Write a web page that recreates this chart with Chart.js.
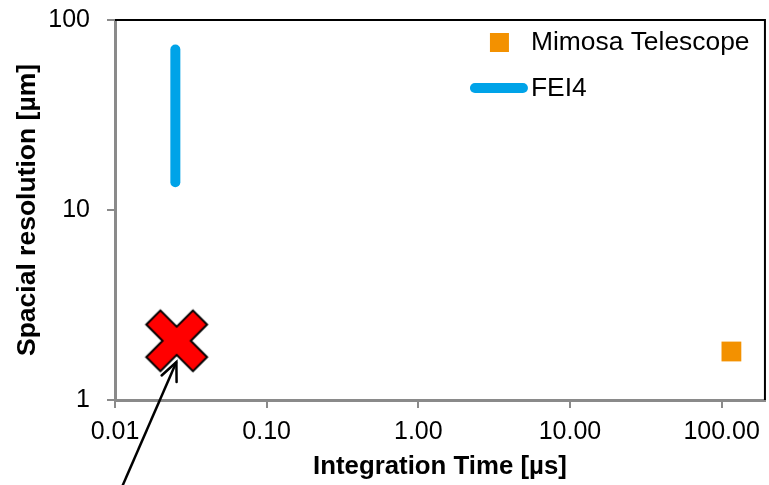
<!DOCTYPE html>
<html>
<head>
<meta charset="utf-8">
<script src="https://cdn.jsdelivr.net/npm/chart.js@4.4.0/dist/chart.umd.min.js"></script>
<style>
  html, body { margin: 0; padding: 0; background: #fff; }
  #wrap { width: 769px; height: 485px; position: relative; }
</style>
</head>
<body>
<div id="wrap"><canvas id="chart"></canvas></div>
<script>
// values
const mimosaX = [116];
const mimosaY = [1.8];
const fei4X = [0.025, 0.025];
const fei4Y = [14, 70];
const targetX = [0.0255];
const targetY = [2.05];
// arrow pointing at the target: tail (outside the plot) -> tip
const arrowX = [0.0109, 0.0254];
const arrowY = [0.336, 1.585];

const xTicks = [0.01, 0.1, 1, 10, 100];
const yTicks = [1, 10, 100];
const seriesNames = ['Mimosa Telescope', 'FEI4'];

const ORANGE = '#F39100';
const BLUE = '#00A3E8';
const FONT = "'Liberation Sans', Arial, sans-serif";

function pts(xs, ys) {
    return xs.map((x, i) => ({ x: x, y: ys[i] }));
}

// the big red X drawn as a point image
function makeCross() {
    const c = document.createElement('canvas');
    c.width = 68; c.height = 68;
    const g = c.getContext('2d');
    const w = 10, L = 33;
    g.translate(34, 34);
    g.rotate(Math.PI / 4);
    g.beginPath();
    g.moveTo(-w, -L); g.lineTo(w, -L); g.lineTo(w, -w); g.lineTo(L, -w);
    g.lineTo(L, w); g.lineTo(w, w); g.lineTo(w, L); g.lineTo(-w, L);
    g.lineTo(-w, w); g.lineTo(-L, w); g.lineTo(-L, -w); g.lineTo(-w, -w);
    g.closePath();
    g.fillStyle = '#FF0000';
    g.fill();
    g.lineWidth = 2;
    g.strokeStyle = '#000';
    g.lineJoin = 'miter';
    g.stroke();
    return c;
}

// top and right frame lines, arrow head and the legend inside the plot
const extras = {
    id: 'extras',
    afterDatasetsDraw(chart) {
        const ctx = chart.ctx;
        const a = chart.chartArea;
        ctx.save();
        ctx.strokeStyle = '#000';
        ctx.lineWidth = 2;
        ctx.beginPath();
        ctx.moveTo(a.left, a.top);
        ctx.lineTo(a.right, a.top);
        ctx.lineTo(a.right, a.bottom);
        ctx.stroke();

        // arrow head
        const meta = chart.getDatasetMeta(3);
        const p0 = meta.data[0], p1 = meta.data[1];
        const ang = Math.atan2(p1.y - p0.y, p1.x - p0.x);
        const len = 20, spread = 0.42;
        ctx.lineWidth = 2.5;
        ctx.lineCap = 'round';
        ctx.beginPath();
        ctx.moveTo(p1.x - len * Math.cos(ang - spread), p1.y - len * Math.sin(ang - spread));
        ctx.lineTo(p1.x, p1.y);
        ctx.lineTo(p1.x - len * Math.cos(ang + spread), p1.y - len * Math.sin(ang + spread));
        ctx.stroke();

        // legend
        const lx = a.right - 235;
        ctx.font = '26.4px ' + FONT;
        ctx.textBaseline = 'middle';
        ctx.textAlign = 'left';
        ctx.fillStyle = ORANGE;
        ctx.fillRect(lx - 40, a.top + 13, 19, 19);
        ctx.fillStyle = '#000';
        ctx.fillText(seriesNames[0], lx + 1, a.top + 23);
        ctx.strokeStyle = BLUE;
        ctx.lineWidth = 10;
        ctx.lineCap = 'round';
        ctx.beginPath();
        ctx.moveTo(lx - 55, a.top + 68);
        ctx.lineTo(lx - 7, a.top + 68);
        ctx.stroke();
        ctx.fillText(seriesNames[1], lx + 1, a.top + 69);
        ctx.restore();
    }
};

new Chart(document.getElementById('chart').getContext('2d'), {
    type: 'scatter',
    data: {
        datasets: [
            {
                label: seriesNames[0],
                data: pts(mimosaX, mimosaY),
                pointStyle: 'rect',
                pointRadius: 14,
                backgroundColor: ORANGE,
                borderColor: ORANGE,
                borderWidth: 0
            },
            {
                label: seriesNames[1],
                data: pts(fei4X, fei4Y),
                showLine: true,
                borderColor: BLUE,
                borderWidth: 10,
                borderCapStyle: 'round',
                pointRadius: 0
            },
            {
                label: 'target',
                data: pts(targetX, targetY),
                pointStyle: makeCross(),
                pointRadius: 30
            },
            {
                label: 'arrow',
                data: pts(arrowX, arrowY),
                showLine: true,
                borderColor: '#000',
                borderWidth: 2.5,
                pointRadius: 0,
                clip: false
            }
        ]
    },
    options: {
        responsive: true,
        maintainAspectRatio: false,
        animation: false,
        layout: { autoPadding: false, padding: { left: 0, right: 2, top: 20, bottom: 0 } },
        plugins: {
            legend: { display: false },
            tooltip: { enabled: false }
        },
        scales: {
            x: {
                type: 'logarithmic',
                min: 0.01,
                max: 193,
                afterBuildTicks: s => { s.ticks = xTicks.map(v => ({ value: v })); },
                afterFit: s => { s.height = 85; },
                ticks: {
                    autoSkip: false,
                    maxRotation: 0,
                    padding: 9,
                    color: '#000',
                    font: { family: FONT, size: 25 },
                    callback: v => Number(v).toFixed(2)
                },
                grid: { drawOnChartArea: false, drawTicks: true, tickLength: 8, tickColor: '#8a8a8a', lineWidth: 2 },
                border: { color: '#8a8a8a', width: 3 },
                title: {
                    display: true,
                    text: 'Integration Time [µs]',
                    color: '#000',
                    padding: { top: 0, bottom: 3 },
                    font: { family: FONT, size: 25.8, weight: 'bold' }
                }
            },
            y: {
                type: 'logarithmic',
                min: 1,
                max: 100,
                afterBuildTicks: s => { s.ticks = yTicks.map(v => ({ value: v })); },
                afterFit: s => { s.width = 115; },
                ticks: {
                    autoSkip: false,
                    padding: 17,
                    color: '#000',
                    font: { family: FONT, size: 25, lineHeight: 0.2 },
                    callback: v => String(v)
                },
                grid: { drawOnChartArea: false, drawTicks: true, tickLength: 8, tickColor: '#8a8a8a', lineWidth: 2 },
                border: { color: '#8a8a8a', width: 3 },
                title: {
                    display: true,
                    text: 'Spacial resolution [µm]',
                    color: '#000',
                    padding: { top: 12, bottom: 0 },
                    font: { family: FONT, size: 26.5, weight: 'bold' }
                }
            }
        }
    },
    plugins: [extras]
});
</script>
</body>
</html>
